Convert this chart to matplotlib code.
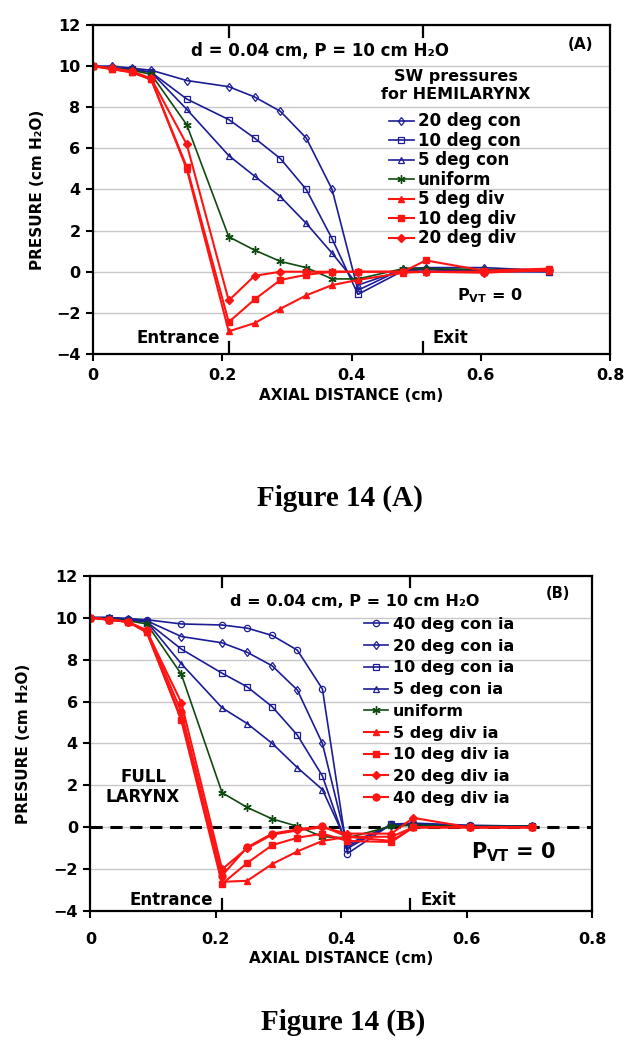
import matplotlib
matplotlib.use('Agg')
import matplotlib.pyplot as plt

# axial positions (cm)
x = [0, 0.03, 0.06, 0.09, 0.145, 0.21, 0.25, 0.29, 0.33, 0.37, 0.41, 0.48, 0.515, 0.605, 0.705]

# (A) hemilarynx
a_con20 = [10, 10, 9.9, 9.8, 9.3, 9.0, 8.5, 7.8, 6.5, 4.0, -0.9, 0.15, 0.2, 0.2, 0.05]
a_con10 = [10, 9.9, 9.85, 9.7, 8.4, 7.4, 6.5, 5.5, 4.0, 1.6, -1.1, 0.05, 0.1, 0.0, 0.0]
a_con5 = [10, 9.9, 9.85, 9.7, 7.9, 5.65, 4.65, 3.65, 2.35, 0.9, -0.65, 0.1, 0.15, 0.05, 0.0]
a_unif = [10, 9.9, 9.8, 9.6, 7.15, 1.7, 1.05, 0.5, 0.2, -0.35, -0.35, 0.15, 0.15, 0.1, 0.1]
a_div5 = [10, 9.85, 9.7, 9.35, 5.0, -2.9, -2.5, -1.8, -1.15, -0.65, -0.4, -0.05, 0.0, 0.0, 0.05]
a_div10 = [10, 9.85, 9.7, 9.35, 5.1, -2.45, -1.35, -0.4, -0.15, 0.0, 0.0, 0.0, 0.55, 0.05, 0.15]
a_div20 = [10, 9.9, 9.75, 9.4, 6.2, -1.4, -0.2, 0.0, 0.0, 0.0, 0.0, 0.0, 0.0, -0.05, 0.1]

# (B) full larynx
b_con40 = [10, 10, 9.95, 9.9, 9.7, 9.65, 9.5, 9.15, 8.45, 6.6, -1.25, 0.15, 0.2, 0.1, 0.05]
b_con20 = [10, 10, 9.95, 9.85, 9.1, 8.8, 8.35, 7.7, 6.55, 4.0, -0.9, 0.1, 0.15, 0.05, 0.05]
b_con10 = [10, 10, 9.9, 9.8, 8.5, 7.35, 6.7, 5.75, 4.4, 2.45, -1.0, 0.15, 0.1, 0.05, 0.05]
b_con5 = [10, 10, 9.9, 9.8, 7.8, 5.7, 4.95, 4.0, 2.85, 1.8, -0.8, 0.1, 0.15, 0.05, 0.05]
b_unif = [10, 9.95, 9.85, 9.7, 7.3, 1.65, 0.95, 0.4, 0.05, -0.45, -0.5, 0.05, 0.1, 0.05, 0.05]
b_div5 = [10, 9.9, 9.8, 9.3, 5.2, -2.6, -2.55, -1.75, -1.15, -0.65, -0.45, -0.65, 0.0, 0.0, 0.0]
b_div10 = [10, 9.9, 9.8, 9.3, 5.1, -2.7, -1.7, -0.85, -0.5, -0.3, -0.65, -0.7, 0.0, 0.0, 0.0]
b_div20 = [10, 9.9, 9.8, 9.35, 5.95, -2.0, -1.0, -0.35, -0.15, 0.0, -0.3, -0.3, 0.45, 0.0, 0.0]
b_div40 = [10, 9.9, 9.8, 9.4, 5.5, -2.3, -0.95, -0.3, -0.1, 0.05, -0.45, -0.45, 0.0, 0.0, 0.0]

xticks = [0, 0.2, 0.4, 0.6, 0.8]
yticks = [-4, -2, 0, 2, 4, 6, 8, 10, 12]
marks = [0.21, 0.51]

BLUE = '#1c1c96'
GREEN = '#0f4a0f'
RED = '#ff1414'
STAR = (6, 2, 0)

plt.rcParams['font.family'] = 'DejaVu Sans'
plt.rcParams['font.weight'] = 'bold'

fig = plt.figure(figsize=(6.35, 10.5), dpi=100)
axA = fig.add_axes([0.1465, 0.6629, 0.8141, 0.3133])
axB = fig.add_axes([0.1424, 0.1322, 0.7899, 0.3195])


def blue(ax, y, m, lab):
    ax.plot(x, y, color=BLUE, lw=1.2, marker=m, ms=4.5, mfc='none', mec=BLUE, mew=0.9, label=lab)


def red(ax, y, m, lab, ms=5):
    ax.plot(x, y, color=RED, lw=1.5, marker=m, ms=ms, mfc=RED, mec=RED, label=lab)


def style(ax, ent_y, tpad):
    ax.set_xlim(0, 0.8)
    ax.set_ylim(-4, 12)
    ax.set_xticks(xticks)
    ax.set_xticklabels(['0', '0.2', '0.4', '0.6', '0.8'])
    ax.set_yticks(yticks)
    ax.grid(axis='y', color='#c8c8c8', lw=1)
    ax.set_axisbelow(True)
    for s in ax.spines.values():
        s.set_linewidth(1.6)
    ax.tick_params(direction='out', length=5, width=1.5, labelsize=11.5, pad=4)
    ax.tick_params(axis='x', pad=tpad)
    for t in ax.get_xticklabels() + ax.get_yticklabels():
        t.set_fontweight('bold')
    for m in marks:
        ax.axvline(m, ymin=0, ymax=0.035, color='black', lw=1.6)
        ax.axvline(m, ymin=0.965, ymax=1, color='black', lw=1.6)
    ax.set_xlabel('AXIAL DISTANCE (cm)', fontsize=11, fontweight='bold')
    ax.set_ylabel('PRESURE (cm H\u2082O)', fontsize=11, fontweight='bold')
    ax.text(0.196, ent_y, 'Entrance', fontsize=12, ha='right', va='center')
    ax.text(0.526, ent_y, 'Exit', fontsize=12, ha='left', va='center')


# ---- (A)
blue(axA, a_con20, 'd', '20 deg con')
blue(axA, a_con10, 's', '10 deg con')
blue(axA, a_con5, '^', '5 deg con')
axA.plot(x, a_unif, color=GREEN, lw=1.2, marker=STAR, ms=6, mec=GREEN, mew=1, label='uniform')
red(axA, a_div5, '^', '5 deg div')
red(axA, a_div10, 's', '10 deg div')
red(axA, a_div20, 'D', '20 deg div', ms=4)
style(axA, -3.2, 5)
axA.xaxis.set_label_coords(0.5, -0.105)
axA.yaxis.set_label_coords(-0.093, 0.5)
axA.text(0.351, 10.74, 'd = 0.04 cm, P = 10 cm H\u2082O', fontsize=12, ha='center', va='center')
axA.text(0.754, 11.03, '(A)', fontsize=11, ha='center', va='center')
axA.text(0.562, 9.06, 'SW pressures\nfor HEMILARYNX', fontsize=11.5, ha='center', va='center',
         linespacing=1.3)
axA.text(0.614, -1.18, r'P$_\mathbf{VT}$ = 0', fontsize=11.5, ha='center', va='center')
legA = axA.legend(loc='upper left', bbox_to_anchor=(0.5725, 0.734), frameon=False,
                  fontsize=12, borderpad=0, borderaxespad=0, handlelength=1.5,
                  handletextpad=0.25, labelspacing=0.09)
for t in legA.get_texts():
    t.set_fontweight('bold')

# ---- (B)
blue(axB, b_con40, 'o', '40 deg con ia')
blue(axB, b_con20, 'd', '20 deg con ia')
blue(axB, b_con10, 's', '10 deg con ia')
blue(axB, b_con5, '^', '5 deg con ia')
axB.plot(x, b_unif, color=GREEN, lw=1.2, marker=STAR, ms=6, mec=GREEN, mew=1, label='uniform')
red(axB, b_div5, '^', '5 deg div ia')
red(axB, b_div10, 's', '10 deg div ia')
red(axB, b_div20, 'D', '20 deg div ia', ms=4)
red(axB, b_div40, 'o', '40 deg div ia')
axB.axhline(0, color='black', lw=2.2, ls=(0, (4, 2.5)), zorder=1.5)
style(axB, -3.45, 10)
axB.xaxis.set_label_coords(0.5, -0.12)
axB.yaxis.set_label_coords(-0.118, 0.5)
axB.text(0.422, 10.75, 'd = 0.04 cm, P = 10 cm H\u2082O', fontsize=11.5, ha='center', va='center')
axB.text(0.746, 11.17, '(B)', fontsize=10.5, ha='center', va='center')
axB.text(0.084, 1.92, 'FULL\nLARYNX', fontsize=12, ha='center', va='center', linespacing=1.15)
axB.text(0.674, -1.18, r'P$_\mathbf{VT}$ = 0', fontsize=15, ha='center', va='center')
legB = axB.legend(loc='upper left', bbox_to_anchor=(0.545, 0.877), frameon=False,
                  fontsize=11.5, borderpad=0, borderaxespad=0, handlelength=1.5,
                  handletextpad=0.3, labelspacing=0.42)
for t in legB.get_texts():
    t.set_fontweight('bold')

fig.text(340 / 635, 1 - 498 / 1050, 'Figure 14 (A)', fontsize=21, fontweight='bold',
         family='Liberation Serif', ha='center', va='center')
fig.text(343 / 635, 1 - 1022 / 1050, 'Figure 14 (B)', fontsize=21, fontweight='bold',
         family='Liberation Serif', ha='center', va='center')

fig.savefig('out.png', dpi=100)
